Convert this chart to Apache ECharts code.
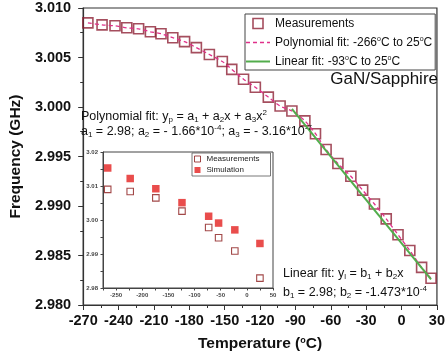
<!DOCTYPE html>
<html>
<head>
<meta charset="utf-8">
<script src="https://cdn.jsdelivr.net/npm/echarts@6/dist/echarts.min.js"></script>
<style>
  html, body { margin: 0; padding: 0; background: #fff; }
  #chart { width: 448px; height: 358px; }
</style>
</head>
<body>
<div id="chart"></div>
<script>
// Resonance frequency of the GaN/Sapphire device versus temperature
const measTemp = [-266, -254, -243, -233, -223, -213, -204, -194, -184, -174,
                  -163, -152, -144, -134, -124, -113, -103, -93, -82, -73,
                  -64, -54, -43, -33, -23, -13, -3, 7, 17, 25];
const measFreq = [3.0085, 3.0083, 3.0082, 3.0080, 3.0079, 3.0076, 3.0074, 3.0070, 3.0066, 3.0060,
                  3.0053, 3.0046, 3.0038, 3.0028, 3.0020, 3.0010, 3.0001, 2.9996, 2.9986, 2.9973,
                  2.9957, 2.9943, 2.9930, 2.9916, 2.9902, 2.9887, 2.9871, 2.9855, 2.9838, 2.9827];

// Linear fit segment (-93 °C to 25 °C)
const linTemp = [-93, 25];
const linFreq = [2.9998, 2.9826];

// Inset: measurement vs simulation
const insetTemp = [-266, -223, -174, -124, -73, -54, -23, 25];
const insetMeas = [3.0090, 3.0084, 3.0065, 3.0026, 2.9978, 2.9948, 2.9909, 2.9829];
const insetSim  = [3.0153, 3.0122, 3.0092, 3.0051, 3.0011, 2.9991, 2.9971, 2.9931];

const polyName = 'Polynomial fit: -266°C to 25°C';
const linName = 'Linear fit: -93°C to 25°C';

const FONT = 'Arial, "Liberation Sans", sans-serif';
const SQUARE = 'path://M0,0L10,0L10,10L0,10Z';
const pairs = (xs, ys) => xs.map((x, i) => [x, ys[i]]);

const subStyle = { fontSize: 8, lineHeight: 8, verticalAlign: 'bottom', fontFamily: FONT, color: '#111' };
const supStyle = { fontSize: 8, lineHeight: 8, verticalAlign: 'top', fontFamily: FONT, color: '#111' };

function noteText(left, top, text) {
  return {
    type: 'text', left: left, top: top, z: 10,
    style: {
      text: text, fontFamily: FONT, fontSize: 12.5, lineHeight: 15, fill: '#111',
      rich: { sub: subStyle, sup: supStyle }
    }
  };
}

const chart = echarts.init(document.getElementById('chart'), null, { renderer: 'canvas' });

chart.setOption({
  animation: false,
  backgroundColor: '#fff',
  grid: [
    { left: 81, top: 8, width: 362, height: 297, show: true, borderColor: '#333', borderWidth: 1.2, backgroundColor: 'transparent' },
    { left: 103, top: 152, width: 170, height: 136, show: true, borderColor: '#444', borderWidth: 1, backgroundColor: '#fff' }
  ],
  xAxis: [
    {
      type: 'value', gridIndex: 0, min: -270, max: 30, interval: 30,
      axisLine: { show: true, onZero: false, lineStyle: { color: '#333', width: 1.2 } },
      axisTick: { show: true, inside: false, length: 5, lineStyle: { color: '#333' } },
      minorTick: { show: true, splitNumber: 2, length: 3, lineStyle: { color: '#333' } },
      splitLine: { show: false },
      axisLabel: { fontSize: 14.5, fontWeight: 'bold', color: '#111', fontFamily: FONT, margin: 8 },
      name: 'Temperature ({sup|o}C)', nameLocation: 'middle', nameGap: 31,
      nameTextStyle: {
        fontSize: 15.5, fontWeight: 'bold', color: '#111', fontFamily: FONT,
        rich: { sup: { fontSize: 9, fontWeight: 'bold', verticalAlign: 'top', lineHeight: 9, fontFamily: FONT, color: '#111' } }
      }
    },
    {
      type: 'value', gridIndex: 1, min: -275, max: 50, interval: 25,
      axisLine: { show: true, onZero: false, lineStyle: { color: '#444', width: 1 } },
      axisTick: { show: true, inside: false, length: 2.5, lineStyle: { color: '#444' } },
      splitLine: { show: false },
      axisLabel: {
        fontSize: 6, color: '#444', fontFamily: FONT, fontWeight: 'bold', margin: 4, hideOverlap: false,
        formatter: v => (Math.round(v) % 50 === 0 ? String(Math.round(v)) : '')
      }
    }
  ],
  yAxis: [
    {
      type: 'value', gridIndex: 0, min: 2.98, max: 3.01, interval: 0.005,
      axisLine: { show: true, onZero: false, lineStyle: { color: '#333', width: 1.2 } },
      axisTick: { show: true, inside: false, length: 5, lineStyle: { color: '#333' } },
      minorTick: { show: true, splitNumber: 2, length: 3, lineStyle: { color: '#333' } },
      splitLine: { show: false },
      axisLabel: { fontSize: 14.5, fontWeight: 'bold', color: '#111', fontFamily: FONT, margin: 12, formatter: v => v.toFixed(3) },
      name: 'Frequency (GHz)', nameLocation: 'middle', nameGap: 57,
      nameTextStyle: { fontSize: 15.5, fontWeight: 'bold', color: '#111', fontFamily: FONT }
    },
    {
      type: 'value', gridIndex: 1, min: 2.98, max: 3.02, interval: 0.005,
      axisLine: { show: true, onZero: false, lineStyle: { color: '#444', width: 1 } },
      axisTick: { show: true, inside: false, length: 2.5, lineStyle: { color: '#444' } },
      splitLine: { show: false },
      axisLabel: {
        fontSize: 6, color: '#444', fontFamily: FONT, fontWeight: 'bold', margin: 5,
        formatter: v => (Math.round(v * 1000) % 10 === 0 ? v.toFixed(2) : '')
      }
    }
  ],
  legend: [
    {
      orient: 'vertical', left: 245, top: 14, selectedMode: false, symbolKeepAspect: true,
      borderColor: '#444', borderWidth: 1, padding: [3, 3, 2, 0],
      itemWidth: 24, itemHeight: 10, itemGap: 6,
      textStyle: {
        fontSize: 12, lineHeight: 13, color: '#111', fontFamily: FONT,
        rich: { sup: { fontSize: 7, verticalAlign: 'top', lineHeight: 7, fontFamily: FONT, color: '#111' } }
      },
      formatter: name => name.replace(/°/g, '{sup|o}'),
      data: [
        { name: 'Measurements', icon: SQUARE, itemStyle: { color: 'transparent', borderColor: '#8e2236', borderWidth: 1.6 } },
        { name: polyName, itemStyle: { color: 'transparent', borderWidth: 0 }, lineStyle: { color: '#e0308a', width: 1.6, type: [4, 3] } },
        { name: linName, itemStyle: { color: 'transparent', borderWidth: 0 }, lineStyle: { color: '#52ad4c', width: 2 } }
      ]
    },
    {
      orient: 'vertical', left: 192, top: 153, selectedMode: false, symbolKeepAspect: true,
      borderColor: '#555', borderWidth: 0.8, padding: [2, 2, 2, 2],
      itemWidth: 8, itemHeight: 6, itemGap: 3,
      textStyle: { fontSize: 8, lineHeight: 8, width: 62, color: '#222', fontFamily: FONT },
      data: [
        { name: 'Measurements', icon: SQUARE, itemStyle: { color: 'transparent', borderColor: '#8b1a1a', borderWidth: 1 } },
        { name: 'Simulation', icon: SQUARE, itemStyle: { color: '#e3201f', borderWidth: 0 } }
      ]
    }
  ],
  series: [
    {
      name: 'Measurements', type: 'scatter', xAxisIndex: 0, yAxisIndex: 0,
      symbol: 'rect', symbolSize: 10,
      itemStyle: { color: 'transparent', borderColor: '#8e2236', borderWidth: 1.6 },
      data: pairs(measTemp, measFreq), z: 2
    },
    {
      name: polyName, type: 'line', xAxisIndex: 0, yAxisIndex: 0,
      symbol: 'none', smooth: 0.3,
      lineStyle: { color: '#e0308a', width: 1.3, type: [4, 3] },
      itemStyle: { color: '#e0308a' },
      data: pairs(measTemp, measFreq), z: 3
    },
    {
      name: linName, type: 'line', xAxisIndex: 0, yAxisIndex: 0,
      symbol: 'none',
      lineStyle: { color: '#52ad4c', width: 2 },
      itemStyle: { color: '#52ad4c' },
      data: pairs(linTemp, linFreq), z: 4
    },
    {
      name: 'Measurements', type: 'scatter', xAxisIndex: 1, yAxisIndex: 1,
      symbol: 'rect', symbolSize: 6.5,
      itemStyle: { color: 'transparent', borderColor: '#8b1a1a', borderWidth: 1.1 },
      data: pairs(insetTemp, insetMeas), z: 5
    },
    {
      name: 'Simulation', type: 'scatter', xAxisIndex: 1, yAxisIndex: 1,
      symbol: 'rect', symbolSize: 7.5,
      itemStyle: { color: '#e3201f' },
      data: pairs(insetTemp, insetSim), z: 5
    }
  ],
  graphic: [
    {
      type: 'text', right: 10, top: 71, z: 10,
      style: { text: 'GaN/Sapphire', fontFamily: FONT, fontSize: 17, fill: '#111' }
    },
    noteText(81, 109, 'Polynomial fit: y{sub|p} = a{sub|1} + a{sub|2}x + a{sub|3}x{sup|2}'),
    noteText(81, 124, 'a{sub|1} = 2.98; a{sub|2} = - 1.66*10{sup|-4}; a{sub|3} = - 3.16*10{sup|-7}'),
    noteText(283, 266, 'Linear fit: y{sub|l} = b{sub|1} + b{sub|2}x'),
    noteText(283, 285, 'b{sub|1} = 2.98; b{sub|2} = -1.473*10{sup|-4}')
  ]
});
</script>
</body>
</html>
